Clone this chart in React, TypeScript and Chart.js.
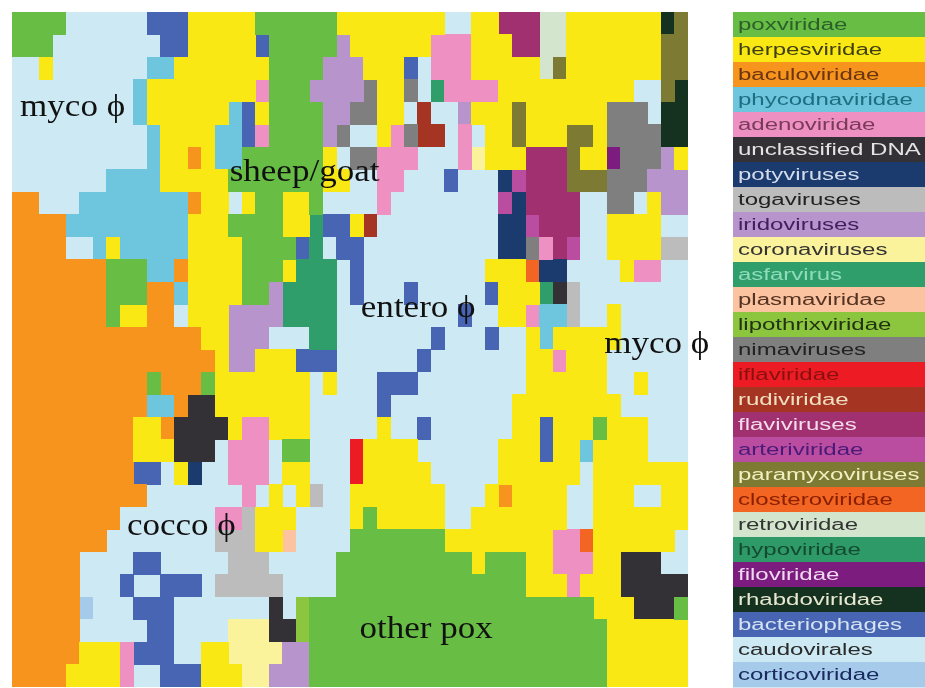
import React, { useEffect, useRef } from "react";
import { Chart, registerables } from "chart.js";

Chart.register(...registerables);

const families = ["poxviridae","herpesviridae","baculoviridae","phycodnaviridae","adenoviridae","unclassified DNA","potyviruses","togaviruses","iridoviruses","coronaviruses","asfarvirus","plasmaviridae","lipothrixviridae","nimaviruses","iflaviridae","rudiviridae","flaviviruses","arteriviridae","paramyxoviruses","closteroviridae","retroviridae","hypoviridae","filoviridae","rhabdoviridae","bacteriophages","caudovirales","corticoviridae"];
const codes = ["P","Y","O","C","A","U","V","T","I","K","X","M","L","N","R","D","F","E","W","H","Z","S","J","Q","B",".","c"];
const fills = ["#68bd45","#f9e813","#f7941d","#6dc6dd","#ee91c2","#333036","#1b3a6e","#bcbcbc","#b794cc","#fbf29c","#2f9e6b","#fbc39f","#8cc63f","#7f7f80","#ed1c24","#a53423","#a0306f","#bb4da0","#7c7a33","#f26522","#d3e5cd","#2d9a68","#7b1c7e","#14321f","#4865b3","#cde9f3","#a6cbea"];
const inks = ["#2c5f2a","#3f3f10","#6a3510","#1f6d80","#7a3a5a","#e4e4e4","#d4dcec","#222222","#40205f","#333333","#8fdcbc","#553322","#223311","#222222","#8a1010","#f0e0c0","#f4dcea","#4a1a7a","#f0f0c0","#8a2000","#333333","#134a30","#f0d8f0","#e8e8d0","#d4e2f2","#2a2a2a","#1a2a60"];

const rows = [
"P4 .6 B3 Y5 P6 Y8 .2 Y2 F3 Z2 Y7 Q1 W1",
"P3 .8 B2 Y5 B1 P5 I1 Y6 A3 Y3 F2 Z2 Y7 W2",
".2 Y1 .7 C2 Y7 P4 I3 Y3 B1 .1 A3 Y5 Z1 W1 Y7 W2",
".9 C1 Y8 A1 P3 I4 N1 Y2 N1 .1 X1 A4 Y10 .2 W1 Q1",
".9 C1 Y6 C1 B1 Y1 P4 I2 N2 Y2 .1 D1 .2 I1 Y3 W1 Y6 N3 .1 Q2",
".10 C1 Y4 C2 B1 A1 P4 I1 N1 .2 Y1 A1 N1 D2 .1 A1 .1 Y2 W1 Y3 W2 Y1 N4 Q2",
".10 C1 Y2 O1 Y1 C2 P6 Y1 .1 N2 A3 .3 A1 K1 Y3 F3 W1 Y2 J1 N3 I1 Y1",
".7 C4 Y5 P7 Y2 .2 A2 .3 B1 .3 V1 E1 F3 W3 N3 I3",
"O2 .3 C8 O1 Y2 .1 Y1 P2 Y2 P1 .4 A1 .8 E1 V1 F4 .2 N2 .1 Y1 I2",
"O4 C9 Y3 P4 Y2 X1 B2 Y1 D1 .9 V2 E1 F3 .2 Y4 .2",
"O4 .2 C1 Y1 C5 Y4 P4 B1 X1 .1 B2 .10 V2 N1 A1 F1 E1 .2 Y4 T2",
"O7 P3 C2 O1 Y4 P3 Y1 X3 .1 B1 .9 Y3 H1 V2 .4 Y1 A2 .2",
"O7 P3 O2 C1 Y4 P2 I1 X4 .1 B1 .3 B1 .5 B1 Y3 X1 U1 T1 .8",
"O7 P1 Y2 O2 .1 Y3 I4 X4 .9 B1 .2 Y2 A1 C2 T1 .2 Y1 .5",
"O14 Y2 I3 .3 X2 .7 B1 .3 B1 .2 Y1 C1 Y5 .5",
"O15 Y1 I2 Y3 B3 .6 B1 .7 Y2 A1 Y3 .6",
"O10 P1 O3 P1 Y7 .1 Y1 .3 B3 .8 Y6 .2 Y1 .3",
"O10 C2 O1 U2 Y7 .5 B1 .9 Y8 .5",
"O9 Y2 O1 U4 Y1 A2 Y3 .5 Y1 .2 B1 .6 Y2 B1 Y3 P1 Y3 .3",
"O9 Y3 U3 .1 A3 .1 P2 .3 R1 Y4 .6 Y3 B1 Y2 C1 Y4 .3",
"O9 B2 .1 Y1 V1 .2 A3 .1 Y2 .3 R1 Y5 .5 Y6 .1 Y7",
"O10 .7 A1 .1 Y1 .1 Y1 T1 .2 Y7 .3 Y1 O1 Y4 .2 Y3 .2 Y2",
"O8 .7 A2 T1 Y3 .4 Y1 P1 Y5 .2 Y7 .2 Y7",
"O7 .8 T3 Y2 M1 .4 P7 Y8 A2 H1 Y6 .1",
"O5 .4 B2 .5 T3 .5 P10 Y1 P3 Y2 A3 Y2 U3 .2",
"O5 .3 B1 .2 B3 .1 T5 .4 P14 Y3 A1 Y3 U5",
"O5 c1 .3 B3 .7 U1 .1 L1 P21 Y3 U3 P1",
"O5 .5 B2 .4 K3 U2 L1 P22 Y6",
"O5 Y3 A1 B3 .2 Y2 K4 I2 P22 Y6",
"O4 Y4 A1 .2 B3 Y3 K2 I3 P22 Y6",
];

const mapLabels = ["myco \u03d5", "sheep/goat", "entero \u03d5", "myco \u03d5", "cocco \u03d5", "other pox"];
const mapLabelX = [0.6, 16.1, 25.8, 43.8, 8.5, 25.7];
const mapLabelY = [4.6, 7.5, 13.55, 15.15, 23.25, 27.82];

function cellsFor(code: string) {
  const pts: { x: number; y: number }[] = [];
  rows.forEach((row, r) => {
    let c = 0;
    for (const tok of row.split(" ")) {
      const n = parseInt(tok.slice(1), 10);
      if (tok[0] === code) for (let i = 0; i < n; i++) pts.push({ x: c + i + 0.5, y: r + 0.5 });
      c += n;
    }
  });
  return pts;
}

function swatch(color: string) {
  const cv = document.createElement("canvas");
  cv.width = 14;
  cv.height = 23;
  const g = cv.getContext("2d")!;
  g.fillStyle = color;
  g.fillRect(0, 0, 14, 23);
  return cv;
}

const extras = {
  id: "extras",
  afterDatasetsDraw(chart: any) {
    const { ctx, scales } = chart;
    ctx.save();
    ctx.textBaseline = "alphabetic";
    ctx.fillStyle = "#111111";
    mapLabels.forEach((t, i) => {
      ctx.save();
      ctx.translate(scales.x.getPixelForValue(mapLabelX[i]), scales.y.getPixelForValue(mapLabelY[i]));
      ctx.scale(1.13, 1);
      ctx.font = "31px 'Liberation Serif'";
      ctx.fillText(t, 0, 0);
      ctx.restore();
    });
    const left = 733;
    const top = chart.chartArea.top;
    const h = (chart.chartArea.bottom - top) / families.length;
    families.forEach((name, i) => {
      ctx.fillStyle = fills[i];
      ctx.fillRect(left, top + i * h, chart.width - left, h + 0.5);
      ctx.save();
      ctx.translate(left + 5, top + i * h + h / 2 + 5);
      ctx.scale(1.5, 1);
      ctx.font = "16px 'Liberation Sans'";
      ctx.fillStyle = inks[i];
      ctx.fillText(name, 0, 0);
      ctx.restore();
    });
    ctx.restore();
  },
};

export default function App() {
  const ref = useRef<HTMLCanvasElement>(null);
  useEffect(() => {
    const chart = new Chart(ref.current!, {
      type: "scatter",
      data: {
        datasets: families.map((name, i) => ({
          label: name,
          data: cellsFor(codes[i]),
          pointStyle: swatch(fills[i]) as any,
          backgroundColor: fills[i],
          pointRadius: 7,
          clip: false as any,
        })),
      },
      options: {
        responsive: false,
        animation: false,
        events: [],
        layout: { autoPadding: false, padding: { left: 12, top: 12, right: 237, bottom: 1 } },
        plugins: { legend: { display: false }, tooltip: { enabled: false } },
        scales: {
          x: { type: "linear", min: 0, max: 50, display: false },
          y: { type: "linear", min: 0, max: 30, reverse: true, display: false },
        },
      },
      plugins: [extras],
    });
    return () => chart.destroy();
  }, []);
  return (
    <div style={{ position: "fixed", left: 0, top: 0, background: "#fff" }}>
      <canvas ref={ref} width={925} height={688} style={{ display: "block" }} />
    </div>
  );
}
